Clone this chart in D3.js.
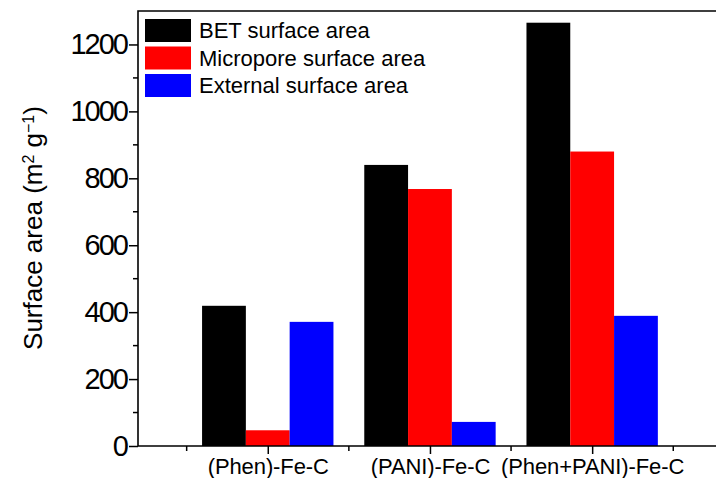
<!DOCTYPE html>
<html lang="en">
<head>
<meta charset="utf-8">
<title>Surface area</title>
<script src="https://cdn.jsdelivr.net/npm/d3@7"></script>
<style>
  body { margin: 0; background: #fff; }
  text { font-family: Arial, "Liberation Sans", sans-serif; fill: #000; }
</style>
</head>
<body>
<script>
// data
var categories = ["(Phen)-Fe-C", "(PANI)-Fe-C", "(Phen+PANI)-Fe-C"];
var seriesNames = ["BET surface area", "Micropore surface area", "External surface area"];
var seriesColors = ["#000000", "#ff0000", "#0000ff"];
var betArea = [419, 840, 1265];
var microporeArea = [47, 768, 880];
var externalArea = [371, 72, 389];
var yTicks = [0, 200, 400, 600, 800, 1000, 1200];

var series = [betArea, microporeArea, externalArea];

var W = 716, H = 478;
var plotLeft = 138, plotTop = 11, plotBottom = 446;

var svg = d3.select("body").append("svg")
    .attr("width", W)
    .attr("height", H);

// category positions 1..3 on a linear axis, like the original plot
var xScale = d3.scaleLinear().domain([0.2, 3.8]).range([plotLeft, plotLeft + 3.6 * 162.2]);
var yScale = d3.scaleLinear().domain([0, 1300]).range([plotBottom, plotTop]);

var groupW = 0.81;   // fraction of category spacing
var barW = groupW / 3;

// bars
series.forEach(function(vals, s) {
    svg.append("g").selectAll("rect")
        .data(vals)
        .enter()
        .append("rect")
        .attr("x", function(d, i) { return xScale(i + 1 - groupW / 2 + s * barW); })
        .attr("width", xScale(barW) - xScale(0))
        .attr("y", function(d) { return yScale(d); })
        .attr("height", function(d) { return yScale(0) - yScale(d); })
        .attr("fill", seriesColors[s]);
});

// y axis
var yAxis = d3.axisLeft(yScale).tickValues(yTicks).tickSize(9).tickPadding(2).tickFormat(d3.format("d"));
var gy = svg.append("g").attr("transform", "translate(" + plotLeft + ",0)").call(yAxis);
gy.select(".domain").remove();
gy.selectAll(".tick line").attr("stroke-width", 1.5);
gy.selectAll("text").attr("font-size", "29px").style("letter-spacing", "-2px");

// minor y ticks
var yMinor = d3.range(100, 1300, 200);
svg.append("g").selectAll("line").data(yMinor).enter().append("line")
    .attr("x1", plotLeft - 5).attr("x2", plotLeft)
    .attr("y1", function(d) { return yScale(d); })
    .attr("y2", function(d) { return yScale(d); })
    .attr("stroke", "#000").attr("stroke-width", 1.5);

// x axis
var xAxis = d3.axisBottom(xScale).tickValues([1, 2, 3]).tickSize(8).tickPadding(4)
    .tickFormat(function(d) { return categories[d - 1]; });
var gx = svg.append("g").attr("transform", "translate(0," + plotBottom + ")").call(xAxis);
gx.select(".domain").remove();
gx.selectAll(".tick line").attr("stroke-width", 1.5);
gx.selectAll("text").attr("font-size", "22px").style("letter-spacing", "-0.1px");

var xMinor = [0.5, 1.5, 2.5, 3.5];
svg.append("g").selectAll("line").data(xMinor).enter().append("line")
    .attr("x1", function(d) { return xScale(d); })
    .attr("x2", function(d) { return xScale(d); })
    .attr("y1", plotBottom).attr("y2", plotBottom + 5)
    .attr("stroke", "#000").attr("stroke-width", 1.5);

// frame lines (left, bottom, top)
svg.append("path")
    .attr("d", "M" + W + "," + plotTop + "H" + plotLeft + "V" + plotBottom + "H" + W)
    .attr("fill", "none")
    .attr("stroke", "#000")
    .attr("stroke-width", 1.6);

// y axis title
var yt = svg.append("text")
    .attr("transform", "translate(42,228) rotate(-90)")
    .attr("text-anchor", "middle")
    .attr("font-size", "26px");
yt.append("tspan").text("Surface area (m");
yt.append("tspan").attr("baseline-shift", "super").attr("font-size", "16px").text("2");
yt.append("tspan").text(" g");
yt.append("tspan").attr("baseline-shift", "super").attr("font-size", "16px").text("\u22121");
yt.append("tspan").text(")");

// legend
var legend = svg.append("g").selectAll("g")
    .data(seriesNames)
    .enter()
    .append("g")
    .attr("transform", function(d, i) { return "translate(145," + (19 + i * 27.5) + ")"; });

legend.append("rect")
    .attr("width", 46).attr("height", 23)
    .attr("fill", function(d, i) { return seriesColors[i]; });

legend.append("text")
    .attr("x", 54).attr("y", 19)
    .attr("font-size", "22px")
    .text(function(d) { return d; });
</script>
</body>
</html>
